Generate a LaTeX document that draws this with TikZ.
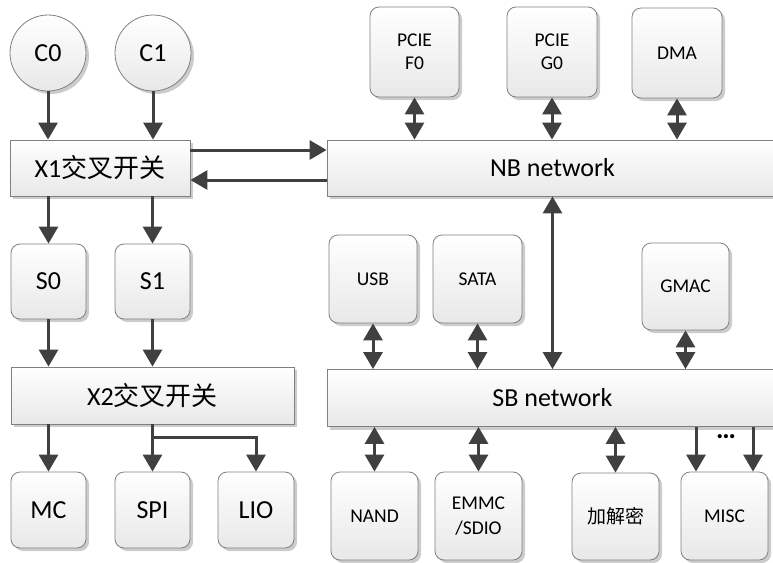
\documentclass[tikz,border=0pt]{standalone}
\usepackage{fontspec}
\setmainfont{Carlito}
\newfontfamily\cjk{Noto Sans CJK SC}
\usetikzlibrary{arrows.meta,shadows}
\tikzset{
  boxbase/.style={draw=black!50, line width=0.8pt, top color=white, bottom color=black!9,
    drop shadow={shadow xshift=3pt,shadow yshift=-3pt,fill=black,opacity=0.2},
    inner sep=0pt, align=center, text=black},
  rbox/.style={boxbase, rounded corners=9pt},
  sqbox/.style={boxbase},
  circ/.style={boxbase, circle, minimum size=76pt},
  biglbl/.style={font=\fontsize{26}{30}\selectfont},
  smllbl/.style={font=\fontsize{19.5}{23}\selectfont},
  arr/.style={draw=black!75, line width=3pt, -{Triangle[width=19pt,length=17pt]}},
  darr/.style={draw=black!75, line width=3pt, {Triangle[width=19pt,length=17pt]}-{Triangle[width=19pt,length=17pt]}},
}
\begin{document}
\begin{tikzpicture}[x=1pt,y=-1pt]
\useasboundingbox (0,0) rectangle (773,562);
% left column
\node[circ, biglbl] (C0) at (48,53) {C0};
\node[circ, biglbl] (C1) at (153,53) {C1};
\node[sqbox, biglbl, minimum width=180pt, minimum height=56pt] (X1) at (100,168) {X1{\cjk 交叉开关}};
\node[rbox, biglbl, minimum width=75pt, minimum height=75pt] (S0) at (48.5,281.5) {S0};
\node[rbox, biglbl, minimum width=75pt, minimum height=75pt] (S1) at (152.5,281.5) {S1};
\node[sqbox, biglbl, minimum width=283pt, minimum height=57pt] (X2) at (152.5,395.5) {X2{\cjk 交叉开关}};
\node[rbox, biglbl, minimum width=75pt, minimum height=76pt] (MC) at (48.5,510) {MC};
\node[rbox, biglbl, minimum width=75pt, minimum height=76pt] (SPI) at (152.5,510) {SPI};
\node[rbox, biglbl, minimum width=76pt, minimum height=76pt] (LIO) at (256,510) {LIO};
% networks
\node[sqbox, biglbl, minimum width=451pt, minimum height=56pt] (NB) at (552.5,168) {NB network};
\node[sqbox, biglbl, minimum width=451pt, minimum height=57pt] (SB) at (552.5,398) {SB network};
% top devices
\node[rbox, smllbl, minimum width=89pt, minimum height=90pt] (F0) at (414.5,52) {PCIE\\F0};
\node[rbox, smllbl, minimum width=90pt, minimum height=90pt] (G0) at (552,52) {PCIE\\G0};
\node[rbox, smllbl, minimum width=90pt, minimum height=90pt] (DMA) at (677,53) {DMA};
% middle devices
\node[rbox, smllbl, minimum width=88pt, minimum height=88pt] (USB) at (373,279) {USB};
\node[rbox, smllbl, minimum width=89pt, minimum height=88pt] (SATA) at (477.5,279) {SATA};
\node[rbox, smllbl, minimum width=87pt, minimum height=87pt] (GMAC) at (685.5,286.5) {GMAC};
% bottom devices
\node[rbox, smllbl, minimum width=87pt, minimum height=88pt] (NAND) at (374.5,516) {NAND};
\node[rbox, font=\fontsize{19.5}{25}\selectfont, minimum width=87pt, minimum height=88pt] (EMMC) at (478.5,516) {EMMC\\/SDIO};
\node[rbox, smllbl, minimum width=87pt, minimum height=87pt] (CRY) at (615.5,516.5) {\cjk\fontsize{19}{23}\selectfont 加解密};
\node[rbox, smllbl, minimum width=87pt, minimum height=88pt] (MISC) at (724.5,516) {MISC};
\node[fill=white, inner sep=1pt, font=\fontsize{28}{28}\selectfont\bfseries] (dots) at (726,437) {…};
% left arrows
\draw[arr] (C0.south) -- (C0.south |- X1.north);
\draw[arr] (C1.south) -- (C1.south |- X1.north);
\draw[arr] ([yshift=18pt]X1.east) -- ([yshift=18pt]X1.east -| NB.west);
\draw[arr] ([yshift=-12pt]X1.east -| NB.west) -- ([yshift=-12pt]X1.east);
\draw[arr] (S0.north |- X1.south) -- (S0.north);
\draw[arr] (S1.north |- X1.south) -- (S1.north);
\draw[arr] (S0.south) -- (S0.south |- X2.north);
\draw[arr] (S1.south) -- (S1.south |- X2.north);
\draw[arr] (MC.north |- X2.south) -- (MC.north);
\draw[arr] (SPI.north |- X2.south) -- (SPI.north);
\coordinate (br) at (152.5,437);
\draw[arr] (br) -| (LIO.north);
% NB arrows
\draw[darr] (F0.south) -- (F0.south |- NB.north);
\draw[darr] (G0.south) -- (G0.south |- NB.north);
\draw[darr] (DMA.south) -- (DMA.south |- NB.north);
\draw[darr] (NB.south) -- (SB.north);
% SB arrows
\draw[darr] (USB.south) -- (USB.south |- SB.north);
\draw[darr] (SATA.south) -- (SATA.south |- SB.north);
\draw[darr] (GMAC.south) -- (GMAC.south |- SB.north);
\draw[darr] (NAND.north |- SB.south) -- (NAND.north);
\draw[darr] (EMMC.north |- SB.south) -- (EMMC.north);
\draw[darr] (CRY.north |- SB.south) -- (CRY.north);
\draw[arr] ([xshift=-28.5pt]MISC.north |- SB.south) -- ([xshift=-28.5pt]MISC.north);
\draw[arr] ([xshift=28.5pt]MISC.north |- SB.south) -- ([xshift=28.5pt]MISC.north);
\end{tikzpicture}
\end{document}
